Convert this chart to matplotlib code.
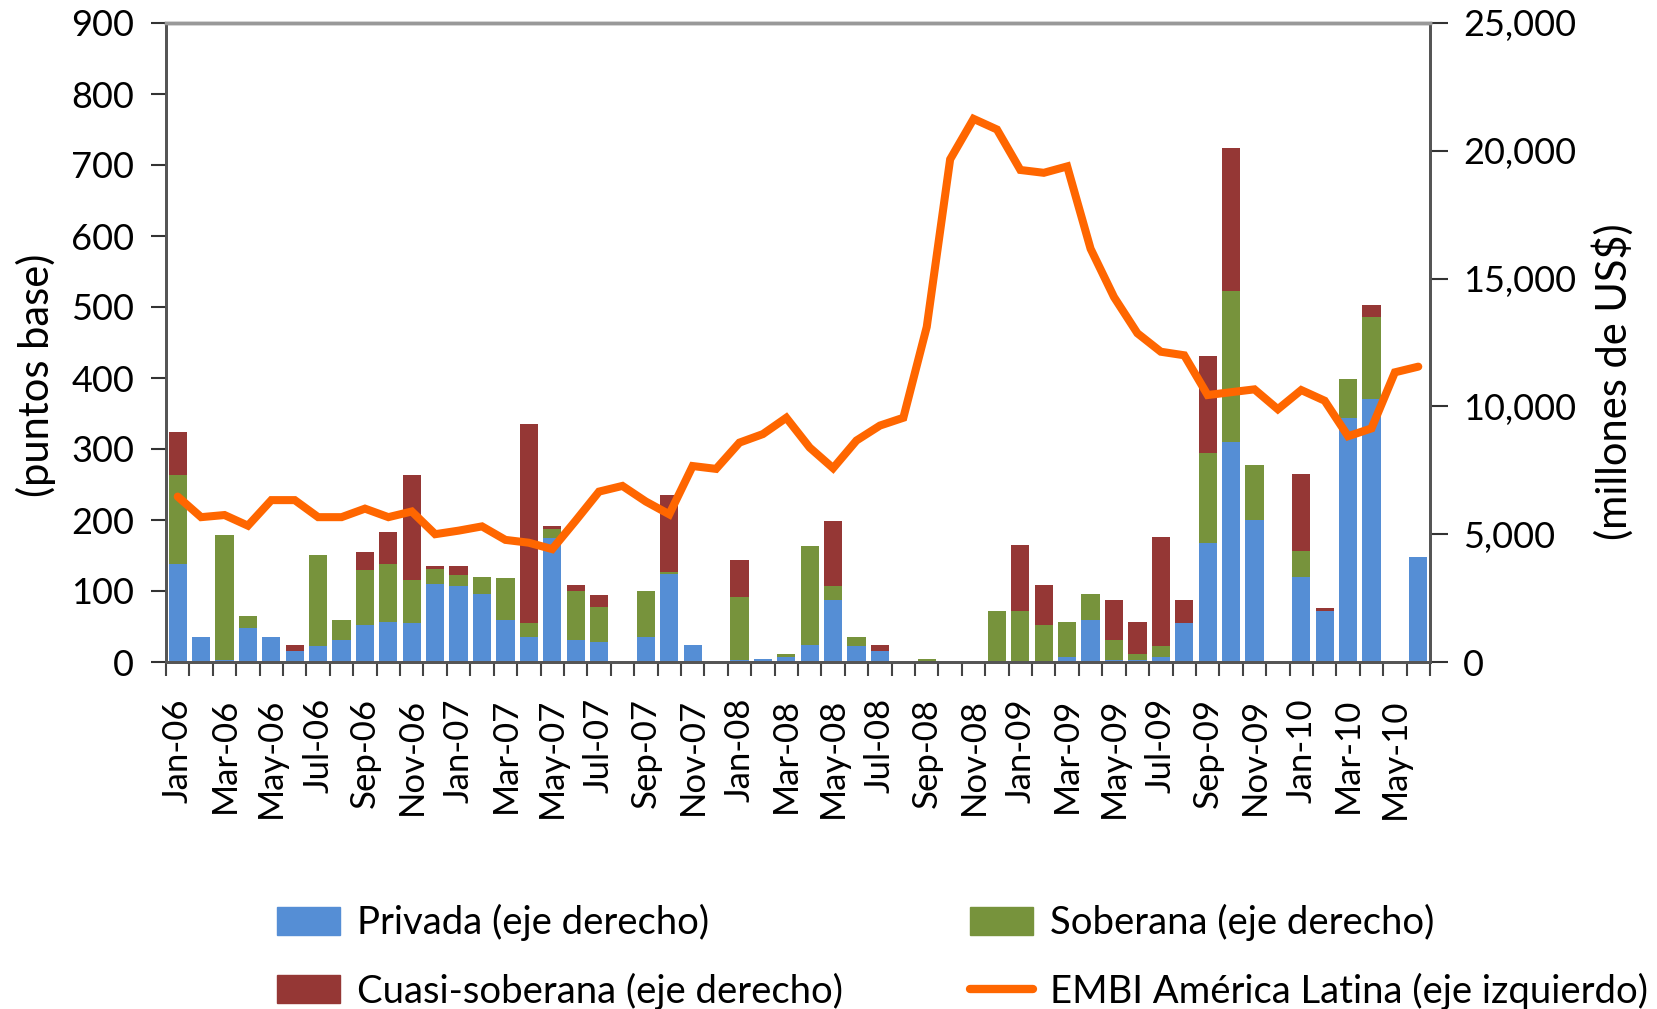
import matplotlib
matplotlib.use("Agg")
import matplotlib.pyplot as plt
import numpy as np
from matplotlib.patches import Patch
from matplotlib.lines import Line2D

plt.rcParams['font.family'] = ['Lato', 'DejaVu Sans']

months = ["Jan-06","Feb-06","Mar-06","Apr-06","May-06","Jun-06","Jul-06","Aug-06","Sep-06","Oct-06","Nov-06","Dec-06",
          "Jan-07","Feb-07","Mar-07","Apr-07","May-07","Jun-07","Jul-07","Aug-07","Sep-07","Oct-07","Nov-07","Dec-07",
          "Jan-08","Feb-08","Mar-08","Apr-08","May-08","Jun-08","Jul-08","Aug-08","Sep-08","Oct-08","Nov-08","Dec-08",
          "Jan-09","Feb-09","Mar-09","Apr-09","May-09","Jun-09","Jul-09","Aug-09","Sep-09","Oct-09","Nov-09","Dec-09",
          "Jan-10","Feb-10","Mar-10","Apr-10","May-10","Jun-10"]

# millones de US$ (eje derecho)
privada = [3850, 965, 65, 1330, 965, 415, 625, 860, 1430, 1560, 1510, 3070,
           2965, 2655, 1640, 965, 4865, 860, 780, 0, 965, 3435, 650, 0,
           65, 105, 185, 650, 2410, 625, 415, 0, 0, 0, 0, 0,
           0, 0, 200, 1640, 70, 70, 200, 1510, 4650, 8590, 5550, 0,
           3325, 1985, 9545, 10275, 0, 4110]
soberana = [3475, 0, 4920, 455, 0, 0, 3580, 765, 2185, 2290, 1680, 585,
            455, 690, 1665, 545, 350, 1900, 1390, 0, 1795, 105, 0, 0,
            2460, 0, 115, 3905, 545, 340, 0, 0, 105, 0, 0, 1980,
            1980, 1440, 1355, 1010, 785, 230, 415, 0, 3510, 5920, 2170, 0,
            1010, 0, 1510, 3210, 0, 0]
cuasi = [1675, 0, 0, 0, 0, 235, 0, 0, 705, 1250, 4135, 115,
         350, 0, 0, 7810, 115, 235, 470, 0, 0, 3005, 0, 0,
         1485, 0, 0, 0, 2575, 0, 235, 0, 0, 0, 0, 0,
         2600, 1570, 0, 0, 1570, 1255, 4280, 915, 3795, 5610, 0, 0,
         3025, 130, 0, 470, 0, 0]
# puntos base (eje izquierdo)
embi = [233, 204, 207, 192, 228, 228, 204, 204, 216, 204, 212, 180,
        185, 191, 172, 168, 159, 199, 240, 248, 226, 208, 276, 272,
        309, 321, 344, 302, 273, 312, 333, 344, 472, 708, 765, 750,
        693, 689, 698, 582, 514, 463, 437, 432, 376, 380, 384, 356,
        383, 368, 318, 329, 408, 416]

c_priv = "#558ED5"
c_sob = "#77933C"
c_cua = "#953735"
c_embi = "#FF6600"

fig = plt.figure(figsize=(16.57, 10.09), dpi=100)
ax = fig.add_axes([166/1657, 1-662/1009, (1430-166)/1657, (662-23)/1009])
ax2 = ax.twinx()

x = np.arange(len(months))
p = np.array(privada); s = np.array(soberana); c = np.array(cuasi)
w = 0.78
ax2.bar(x, p, w, color=c_priv, zorder=2)
ax2.bar(x, s, w, bottom=p, color=c_sob, zorder=2)
ax2.bar(x, c, w, bottom=p+s, color=c_cua, zorder=2)
ax.plot(x, embi, color=c_embi, lw=5.8, solid_joinstyle='miter', solid_capstyle='round', zorder=3)

ax.set_zorder(ax2.get_zorder()+1)
ax.patch.set_visible(False)

ax.set_xlim(-0.5, len(months)-0.5)
ax.set_ylim(0, 900)
ax2.set_ylim(0, 25000)
ax.set_yticks(np.arange(0, 901, 100))
ax2.set_yticks(np.arange(0, 25001, 5000))
ax2.set_yticklabels([f"{v:,}" for v in range(0, 25001, 5000)])

# x ticks: boundaries (major) and labels (minor)
ax.set_xticks(np.arange(-0.5, len(months), 1.0))
ax.set_xticklabels([])
ax.set_xticks(x[::2], minor=True)
ax.set_xticklabels(months[::2], minor=True, rotation=90)
ax.tick_params(axis='x', which='major', length=10, width=1.5, color='#444444', direction='out')
ax.tick_params(axis='x', which='minor', length=0, pad=26, labelsize=25)
ax.tick_params(axis='y', length=11, width=1.5, color='#333333', labelsize=26, pad=12)
ax2.tick_params(axis='y', length=13, width=1.5, color='#333333', labelsize=26, pad=11)

for a in (ax, ax2):
    for sp in ('left', 'right', 'bottom'):
        a.spines[sp].set_color('#555555')
        a.spines[sp].set_linewidth(2.0)
    a.spines['top'].set_color('#999999')
    a.spines['top'].set_linewidth(2.5)

ax.set_ylabel("(puntos base)", fontsize=30)
ax2.set_ylabel("(millones de US$)", fontsize=30, rotation=90)
ax.yaxis.set_label_coords(-0.087, 0.449)
ax2.yaxis.set_label_coords(1.128, 0.438)

handles = [Patch(color=c_priv), Patch(color=c_cua), Patch(color=c_sob),
           Line2D([0], [0], color=c_embi, lw=6, solid_capstyle='round')]
labels = ["Privada (eje derecho)", "Cuasi-soberana (eje derecho)",
          "Soberana (eje derecho)", "EMBI América Latina (eje izquierdo)"]
fig.legend(handles, labels, ncol=2, loc='upper left', bbox_to_anchor=(0.167, 0.104),
           frameon=False, fontsize=27.5, handlelength=1.65, handleheight=0.75,
           handletextpad=0.45, columnspacing=3.32, labelspacing=0.82,
           borderpad=0, borderaxespad=0)

fig.savefig("out.png", dpi=100)
